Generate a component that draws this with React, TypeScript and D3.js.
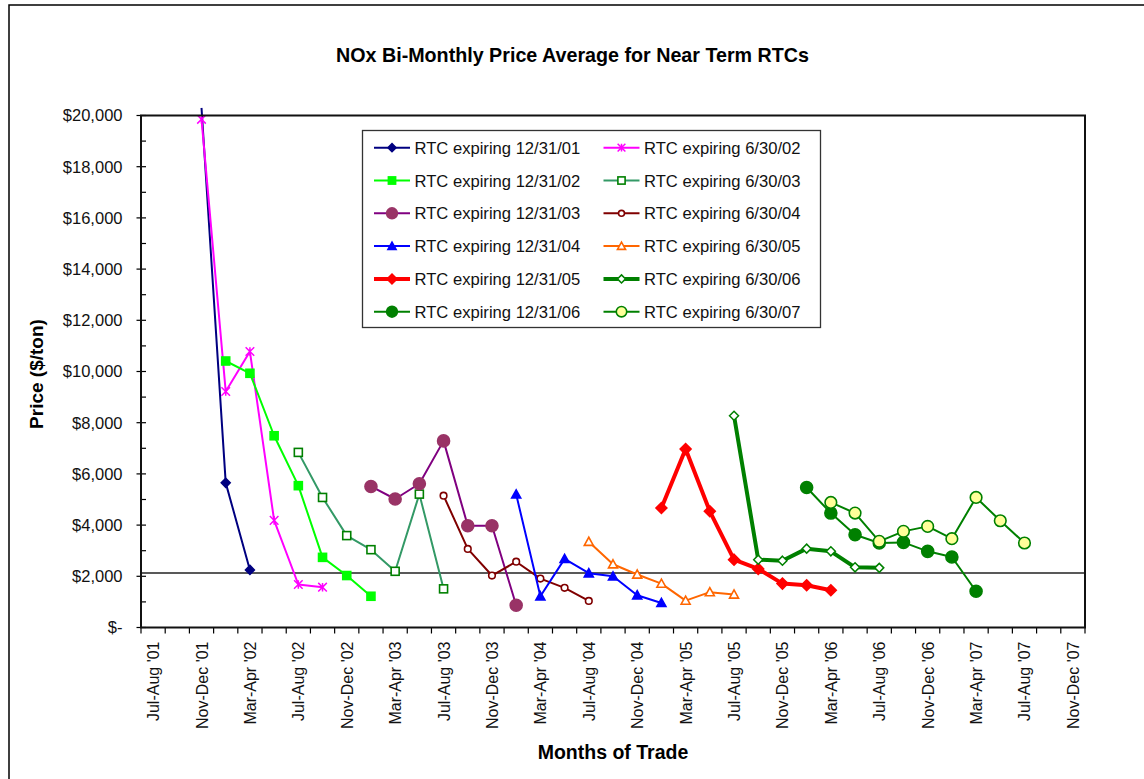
import React from "react";
import * as d3 from "d3";

// bi-monthly trading periods on the x axis
const categories = [
  "Jul-Aug '01", "Sep-Oct '01", "Nov-Dec '01",
  "Jan-Feb '02", "Mar-Apr '02", "May-Jun '02", "Jul-Aug '02", "Sep-Oct '02", "Nov-Dec '02",
  "Jan-Feb '03", "Mar-Apr '03", "May-Jun '03", "Jul-Aug '03", "Sep-Oct '03", "Nov-Dec '03",
  "Jan-Feb '04", "Mar-Apr '04", "May-Jun '04", "Jul-Aug '04", "Sep-Oct '04", "Nov-Dec '04",
  "Jan-Feb '05", "Mar-Apr '05", "May-Jun '05", "Jul-Aug '05", "Sep-Oct '05", "Nov-Dec '05",
  "Jan-Feb '06", "Mar-Apr '06", "May-Jun '06", "Jul-Aug '06", "Sep-Oct '06", "Nov-Dec '06",
  "Jan-Feb '07", "Mar-Apr '07", "May-Jun '07", "Jul-Aug '07", "Sep-Oct '07", "Nov-Dec '07",
];

const yTicks = [0, 2000, 4000, 6000, 8000, 10000, 12000, 14000, 16000, 18000, 20000];

// price series ($/ton), each starting at its first traded period
const exp123101 = [20300, 5650, 2250];
const exp063002 = [19850, 9220, 10780, 4185, 1680, 1575];
const exp123102 = [10410, 9930, 7490, 5540, 2740, 2030, 1220];
const exp063003 = [6840, 5080, 3590, 3040, 2195, 5210, 1510];
const exp123103 = [5510, 5020, 5615, 7290, 3975, 3975, 870];
const exp063004 = [5150, 3070, 2030, 2570, 1910, 1550, 1040];
const exp123104 = [5200, 1220, 2680, 2120, 2000, 1260, 960];
const exp063005 = [3350, 2470, 2070, 1715, 1050, 1380, 1290];
const exp123105 = [4670, 6970, 4540, 2650, 2290, 1715, 1650, 1455];
const exp063006 = [8270, 2650, 2610, 3080, 2975, 2350, 2330];
const exp123106 = [5470, 4470, 3625, 3300, 3325, 2975, 2755, 1415];
const exp063007 = [4885, 4470, 3365, 3755, 3950, 3470, 5080, 4170, 3300];

const referencePrice = 2125;

type Marker = "diamond" | "star" | "square" | "circle" | "triangle";

const series = [
  { name: "RTC expiring 12/31/01", start: "Nov-Dec '01", values: exp123101, color: "#000080", lw: 2, marker: "diamond" as Marker, fill: "#000080", stroke: "#000080", size: 4.5 },
  { name: "RTC expiring 6/30/02", start: "Nov-Dec '01", values: exp063002, color: "#FF00FF", lw: 2, marker: "star" as Marker, fill: "none", stroke: "#FF00FF", size: 4.3 },
  { name: "RTC expiring 12/31/02", start: "Jan-Feb '02", values: exp123102, color: "#00FF00", lw: 2, marker: "square" as Marker, fill: "#00FF00", stroke: "#00FF00", size: 4 },
  { name: "RTC expiring 6/30/03", start: "Jul-Aug '02", values: exp063003, color: "#339966", lw: 2, marker: "square" as Marker, fill: "#FFFFFF", stroke: "#008000", size: 4 },
  { name: "RTC expiring 12/31/03", start: "Jan-Feb '03", values: exp123103, color: "#800080", lw: 2, marker: "circle" as Marker, fill: "#993366", stroke: "#993366", size: 6 },
  { name: "RTC expiring 6/30/04", start: "Jul-Aug '03", values: exp063004, color: "#800000", lw: 2, marker: "circle" as Marker, fill: "#FFFFFF", stroke: "#800000", size: 3.3 },
  { name: "RTC expiring 12/31/04", start: "Jan-Feb '04", values: exp123104, color: "#0000FF", lw: 2, marker: "triangle" as Marker, fill: "#0000FF", stroke: "#0000FF", size: 4.5 },
  { name: "RTC expiring 6/30/05", start: "Jul-Aug '04", values: exp063005, color: "#FF6600", lw: 2, marker: "triangle" as Marker, fill: "#FFFFFF", stroke: "#FF6600", size: 4.5 },
  { name: "RTC expiring 12/31/05", start: "Jan-Feb '05", values: exp123105, color: "#FF0000", lw: 4, marker: "diamond" as Marker, fill: "#FF0000", stroke: "#FF0000", size: 5.5 },
  { name: "RTC expiring 6/30/06", start: "Jul-Aug '05", values: exp063006, color: "#008000", lw: 4, marker: "diamond" as Marker, fill: "#FFFFFF", stroke: "#008000", size: 4.5 },
  { name: "RTC expiring 12/31/06", start: "Jan-Feb '06", values: exp123106, color: "#008000", lw: 2, marker: "circle" as Marker, fill: "#008000", stroke: "#008000", size: 6 },
  { name: "RTC expiring 6/30/07", start: "Mar-Apr '06", values: exp063007, color: "#008000", lw: 2, marker: "circle" as Marker, fill: "#FFFF99", stroke: "#008000", size: 5.8 },
];

const FONT = "'Liberation Sans', Arial, Helvetica, sans-serif";

function MarkerShape({ type, x, y, fill, stroke, size }: { type: Marker; x: number; y: number; fill: string; stroke: string; size: number }) {
  const s = size;
  if (type === "circle") {
    return <circle cx={x} cy={y} r={s} fill={fill} stroke={stroke} strokeWidth={1.6} />;
  }
  if (type === "square") {
    return <rect x={x - s} y={y - s} width={2 * s} height={2 * s} fill={fill} stroke={stroke} strokeWidth={1.6} />;
  }
  if (type === "diamond") {
    return <path d={`M${x},${y - s}L${x + s},${y}L${x},${y + s}L${x - s},${y}Z`} fill={fill} stroke={stroke} strokeWidth={1.5} />;
  }
  if (type === "triangle") {
    return <path d={`M${x},${y - s}L${x + s},${y + s * 0.8}L${x - s},${y + s * 0.8}Z`} fill={fill} stroke={stroke} strokeWidth={1.6} />;
  }
  // star: x with a vertical bar
  return (
    <path
      d={`M${x - s},${y - s}L${x + s},${y + s}M${x - s},${y + s}L${x + s},${y - s}M${x},${y - s}L${x},${y + s}`}
      fill="none"
      stroke={stroke}
      strokeWidth={1.5}
    />
  );
}

export default function App() {
  const plot = { left: 141, top: 115.5, right: 1085, bottom: 627.5 };

  const x = d3.scaleBand<string>().domain(categories).range([plot.left, plot.right]).padding(0);
  const cx = (c: string) => (x(c) as number) + x.bandwidth() / 2;
  const y = d3.scaleLinear().domain([0, 20000]).range([plot.bottom, plot.top]);
  const fmt = d3.format("$,.0f");
  const minorTicks = d3.range(1000, 20000, 2000);

  const line = d3
    .line<[string, number]>()
    .x((d) => cx(d[0]))
    .y((d) => y(d[1]));

  const points = (s: (typeof series)[number]) => {
    const i0 = categories.indexOf(s.start);
    return s.values.map((v, k) => [categories[i0 + k], v] as [string, number]);
  };

  // legend: two columns, filled row by row
  const legendX = [374, 603.5];
  const legendTop = 147.7;
  const legendStep = 32.8;

  return (
    <svg width={1144} height={779} style={{ position: "absolute", left: 0, top: 0, background: "#fff" }} fontFamily={FONT}>
      <defs>
        <clipPath id="lineClip">
          <rect x={plot.left} y={plot.top - 8} width={plot.right - plot.left} height={plot.bottom - plot.top + 8} />
        </clipPath>
        <clipPath id="markClip">
          <rect x={plot.left - 8} y={plot.top} width={plot.right - plot.left + 16} height={plot.bottom - plot.top + 8} />
        </clipPath>
      </defs>

      {/* chart area border */}
      <rect x={9} y={5} width={1200} height={900} fill="#fff" stroke="#000" strokeWidth={1.5} />

      {/* title */}
      <text x={572.5} y={62} textAnchor="middle" fontSize={19.7} fontWeight="bold">
        NOx Bi-Monthly Price Average for Near Term RTCs
      </text>

      {/* y axis ticks & labels */}
      {yTicks.map((t) => (
        <g key={t}>
          <line x1={136.5} x2={146} y1={y(t)} y2={y(t)} stroke="#000" strokeWidth={1.2} />
          <text x={122.5} y={y(t) + 5.8} textAnchor="end" fontSize={16.5} fill="#111">
            {t === 0 ? "$-" : fmt(t)}
          </text>
        </g>
      ))}
      {minorTicks.map((t) => (
        <line key={t} x1={141} x2={146} y1={y(t)} y2={y(t)} stroke="#000" strokeWidth={1.2} />
      ))}

      {/* x axis ticks & labels */}
      {categories.map((c) => (
        <line key={c} x1={x(c)} x2={x(c)} y1={plot.bottom} y2={plot.bottom + 6} stroke="#000" strokeWidth={1.2} />
      ))}
      <line x1={plot.right} x2={plot.right} y1={plot.bottom} y2={plot.bottom + 6} stroke="#000" strokeWidth={1.2} />
      {categories.map((c, i) =>
        i % 2 === 0 ? (
          <text
            key={c}
            transform={`translate(${cx(c) + 6},${plot.bottom + 14}) rotate(-90)`}
            textAnchor="end"
            fontSize={16}
            fill="#111"
          >
            {c}
          </text>
        ) : null
      )}

      {/* axis titles */}
      <text transform="translate(43,374) rotate(-90)" textAnchor="middle" fontSize={19} fontWeight="bold">
        Price ($/ton)
      </text>
      <text x={613} y={759} textAnchor="middle" fontSize={19.5} fontWeight="bold">
        Months of Trade
      </text>

      {/* reference level */}
      <line x1={plot.left} x2={plot.right} y1={y(referencePrice)} y2={y(referencePrice)} stroke="#222" strokeWidth={1.5} />

      {/* series */}
      {series.map((s) => {
        const pts = points(s);
        return (
          <g key={s.name}>
            <path d={line(pts) ?? ""} fill="none" stroke={s.color} strokeWidth={s.lw} strokeLinejoin="round" clipPath="url(#lineClip)" />
            <g clipPath="url(#markClip)">
              {pts.map((p) => (
                <MarkerShape key={p[0]} type={s.marker} x={cx(p[0])} y={y(p[1])} fill={s.fill} stroke={s.stroke} size={s.size} />
              ))}
            </g>
          </g>
        );
      })}

      {/* plot area frame */}
      <rect x={plot.left} y={plot.top} width={plot.right - plot.left} height={plot.bottom - plot.top} fill="none" stroke="#111" strokeWidth={2} />

      {/* legend */}
      <rect x={362.5} y={130.5} width={458} height={197} fill="#fff" stroke="#333" strokeWidth={1.3} />
      {series.map((s, i) => {
        const lx = legendX[i % 2];
        const ly = legendTop + Math.floor(i / 2) * legendStep;
        return (
          <g key={s.name}>
            <line x1={lx} x2={lx + 36} y1={ly} y2={ly} stroke={s.color} strokeWidth={s.lw} />
            <MarkerShape type={s.marker} x={lx + 18} y={ly} fill={s.fill} stroke={s.stroke} size={s.size * 0.9} />
            <text x={lx + 40.5} y={ly + 6} fontSize={16.6} fill="#111">
              {s.name}
            </text>
          </g>
        );
      })}
    </svg>
  );
}
